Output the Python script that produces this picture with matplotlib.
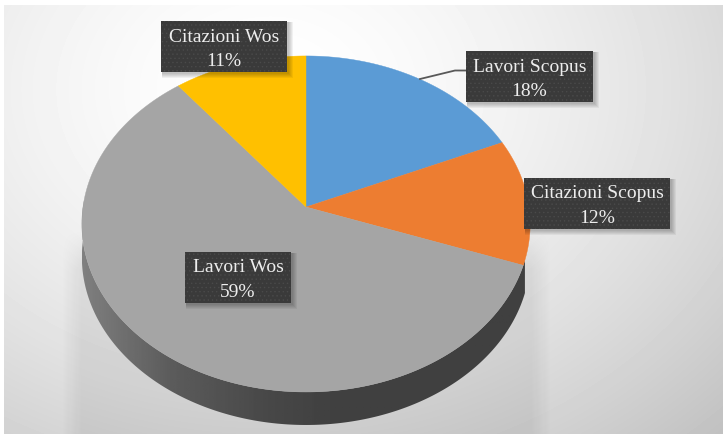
import numpy as np
import matplotlib
matplotlib.use("Agg")
import matplotlib.pyplot as plt
from matplotlib.patches import Rectangle, Polygon

categories = ["Lavori Scopus", "Citazioni Scopus", "Lavori Wos", "Citazioni Wos"]
values = [18.4, 12.1, 58.9, 10.6]
colors = ["#5B9BD5", "#ED7D31", "#A5A5A5", "#FFC000"]
label_boxes = [(466, 52, 127, 51), (524, 179, 146, 51), (185, 253, 106, 51), (161, 22, 126, 51)]

W, H = 723, 435
CX, CY, A, B, P = 306, 208, 166.3, 223, 0.101
DEPTH = 33
plt.rcParams["hatch.linewidth"] = 0.5

def project(theta):
    u, v = np.sin(theta), np.cos(theta)
    d = 1 + P * v
    return CX + B * u / d, CY - A * v / d

fig = plt.figure(figsize=(W / 100, H / 100), dpi=100)
ax = fig.add_axes([0, 0, 1, 1])
ax.set_xlim(0, W)
ax.set_ylim(H, 0)
ax.axis("off")

# background
yy, xx = np.mgrid[0:H, 0:W]
r = np.hypot((xx - 270) / 560, (yy - 90) / 430)
bg = np.clip(1.0 - 0.20 * r ** 1.6, 0, 1)
bg[:6, :] = 1
bg[:, :4] = 1
ax.imshow(bg, cmap="gray", vmin=0, vmax=1, extent=(0, W, H, 0), aspect="auto", zorder=0)

# soft shadow under the pie
sh = np.zeros((H, W, 4))
xr = np.clip(1 - np.abs(xx - 306) / 245, 0, 1)
fade = np.clip((yy - 230) / 40, 0, 1)
sh[..., 3] = 0.07 * np.clip(xr * 12, 0, 1) * fade
ax.imshow(sh, extent=(0, W, H, 0), aspect="auto", zorder=1)

# side wall
mask = np.linspace(82, 530, 256)
side = np.interp(mask, [82, 170, 270, 340, 530], [0.50, 0.36, 0.28, 0.25, 0.25])
im = ax.imshow(side[None, :], cmap="gray", vmin=0, vmax=1, extent=(82, 530, 430, 200),
               aspect="auto", zorder=2)
low = np.linspace(np.deg2rad(108), np.deg2rad(272), 300)
lx, ly = project(low)
clip = Polygon(np.r_[np.c_[lx, ly], np.c_[lx[::-1], ly[::-1] + DEPTH]], closed=True,
               transform=ax.transData, fc="none", ec="none")
ax.add_patch(clip)
im.set_clip_path(clip)

# top face
start = 0.0
for v, c in zip(values, colors):
    a = np.linspace(start, start + v / sum(values) * 2 * np.pi, 200)
    px, py = project(a)
    ax.fill(np.r_[CX, px], np.r_[CY, py], fc=c, ec=c, lw=0.3, zorder=3)
    start = a[-1]

# leader line
ax.plot([420, 455, 466], [80, 71.5, 71.5], color="#595959", lw=1.3, zorder=4)

# labels
for name, v, (x, y, w, h) in zip(categories, values, label_boxes):
    for k in range(1, 6):
        ax.add_patch(Rectangle((x + 1, y + 1), w + k, h + k, fc="black", ec="none",
                               alpha=0.05, zorder=5))
    ax.add_patch(Rectangle((x, y), w, h, fc="#3A3A3A", ec="#4A4A4A", lw=0,
                           hatch="....", zorder=6))
    ax.text(x + w / 2, y + 15, name, ha="center", va="center", color="#EDEDED",
            family="Liberation Serif", fontsize=14, zorder=7)
    ax.text(x + w / 2, y + 40, f"{round(v)}%", ha="center", va="center", color="#EDEDED",
            family="Liberation Serif", fontsize=14, zorder=7)

fig.savefig("out.png", dpi=100)
